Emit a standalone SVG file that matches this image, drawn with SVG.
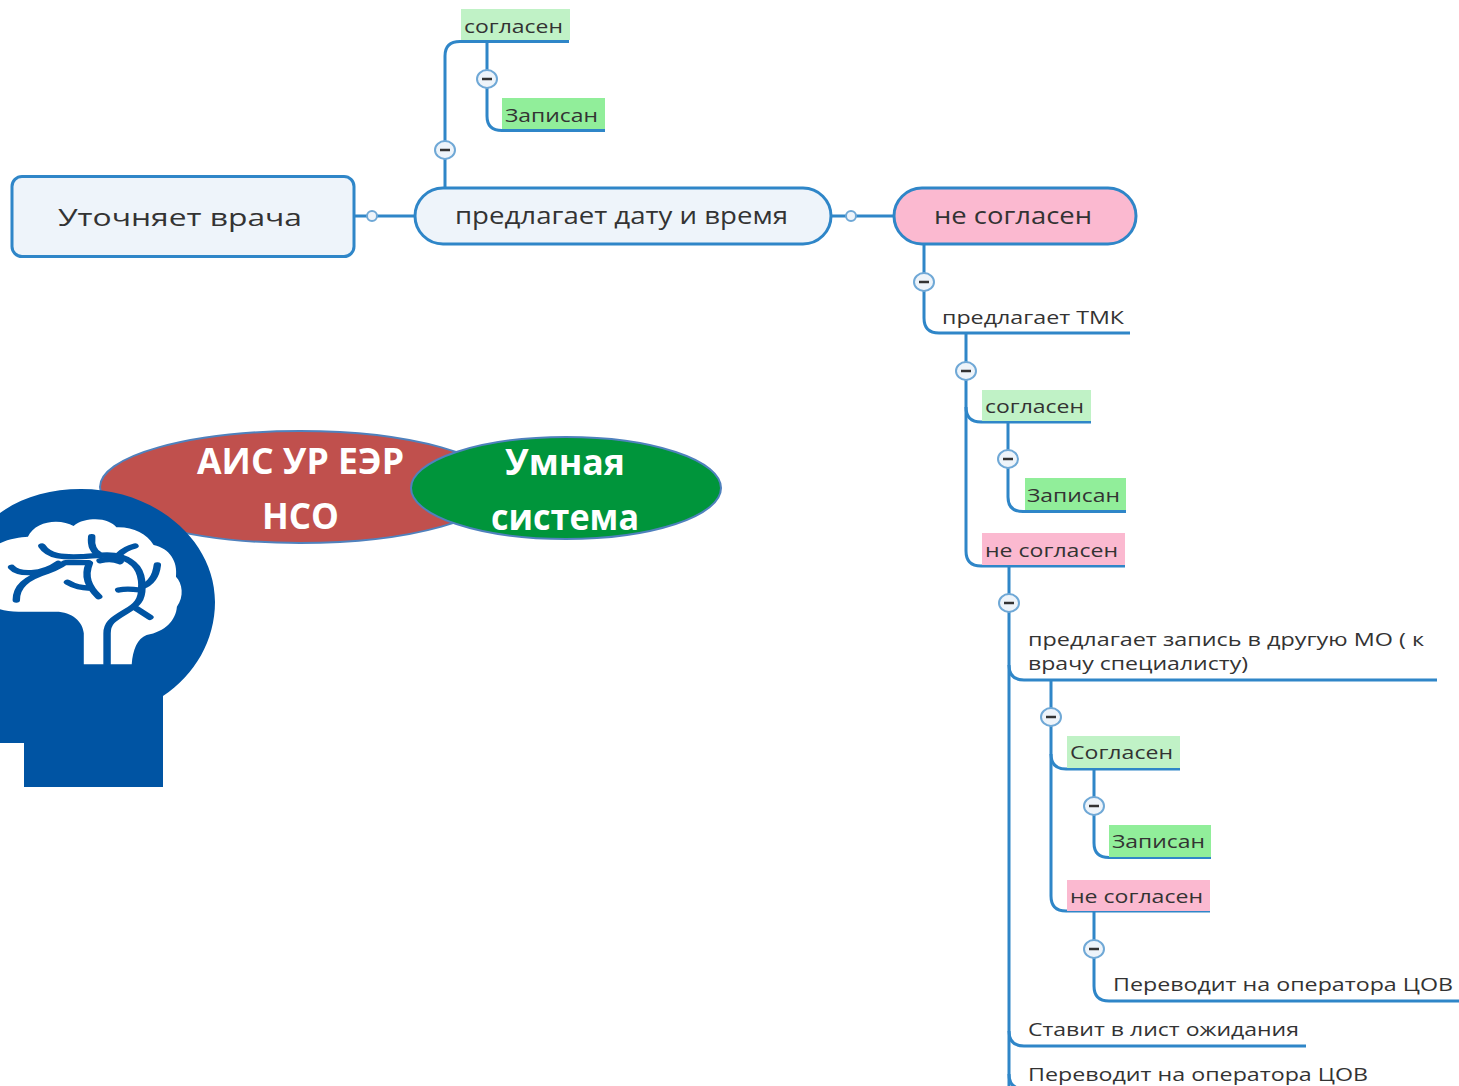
<svg xmlns="http://www.w3.org/2000/svg" width="1459" height="1086" viewBox="0 0 1459 1086">
<style>
.c{fill:none;stroke:#2f86c8;stroke-width:3}
.t{font-family:"Open Sans","Liberation Sans",sans-serif;fill:#333;font-size:19px}
.b{font-size:24px}
.w{font-family:"Open Sans","Liberation Sans",sans-serif;font-weight:700;fill:#fff;font-size:35px}
.n{stroke:#2f86c8;stroke-width:3}
.g1{fill:#c0f2c6}.g2{fill:#91ee9a}.p1{fill:#fbb9d0}
.tg{fill:#eef4fa;stroke:#6fa8d6;stroke-width:2}
.d{stroke:#333;stroke-width:2.5}
.v{fill:none;stroke:#0054a3;stroke-width:16;stroke-linecap:round;stroke-linejoin:round}
</style>
<defs>
<g id="toggle"><ellipse class="tg" rx="10" ry="9"/><line class="d" x1="-5" x2="5"/></g>
</defs>
<g id="connectors">
<path class="c" d="M354 216H415M831 216H894"/>
<path class="c" d="M445 188V56Q445 41.500 460 41.500H569"/>
<path class="c" d="M487 41.500V116Q487 130.500 502 130.500H605"/>
<path class="c" d="M924 244V318Q924 333 939 333H1130"/>
<path class="c" d="M966 333V551Q966 566 981 566H1125"/>
<path class="c" d="M966 407Q966 422 981 422H1091"/>
<path class="c" d="M1008 422V497Q1008 511.500 1023 511.500H1126"/>
<path class="c" d="M1009 566V1086"/>
<path class="c" d="M1009 665Q1009 680 1024 680H1437"/>
<path class="c" d="M1051 680V896Q1051 911 1066 911H1210"/>
<path class="c" d="M1051 754Q1051 769 1066 769H1180"/>
<path class="c" d="M1094 769V843Q1094 857.500 1109 857.500H1211"/>
<path class="c" d="M1094 911V986Q1094 1001 1109 1001H1459"/>
<path class="c" d="M1009 1031Q1009 1046 1024 1046H1306"/>
<path class="c" d="M1024 1089Q1009 1089 1009 1074"/>
<circle class="tg" cx="372" cy="216" r="5"/>
<circle class="tg" cx="851" cy="216" r="5"/>
<use href="#toggle" x="445" y="150"/>
<use href="#toggle" x="487" y="79"/>
<use href="#toggle" x="924" y="282"/>
<use href="#toggle" x="966" y="371"/>
<use href="#toggle" x="1008" y="459"/>
<use href="#toggle" x="1009" y="603"/>
<use href="#toggle" x="1051" y="717"/>
<use href="#toggle" x="1094" y="806"/>
<use href="#toggle" x="1094" y="949"/>
</g>
<g id="n-root"><rect x="12" y="176.500" width="342" height="80" rx="10" fill="#eef4fa" class="n"/><text class="t b" x="58" y="226" textLength="244" lengthAdjust="spacingAndGlyphs">Уточняет врача</text></g>
<g id="n-date"><rect x="415" y="188" width="416" height="56" rx="28" fill="#eef4fa" class="n"/><text class="t b" x="455" y="224" textLength="333" lengthAdjust="spacingAndGlyphs">предлагает дату и время</text></g>
<g id="n-no"><rect x="894" y="188" width="242" height="56" rx="28" class="n p1"/><text class="t b" x="934" y="224" textLength="158" lengthAdjust="spacingAndGlyphs">не согласен</text></g>
<g id="n-yes1"><rect x="461" y="9" width="109" height="31" class="g1"/><text class="t" x="464" y="33" textLength="99" lengthAdjust="spacingAndGlyphs">согласен</text></g>
<g id="n-rec1"><rect x="502" y="98" width="103" height="31" class="g2"/><text class="t" x="505" y="122" textLength="93" lengthAdjust="spacingAndGlyphs">Записан</text></g>
<g id="n-tmk"><text class="t" x="942" y="324" textLength="182" lengthAdjust="spacingAndGlyphs">предлагает ТМК</text></g>
<g id="n-yes2"><rect x="982" y="390" width="109" height="31" class="g1"/><text class="t" x="985" y="413" textLength="99" lengthAdjust="spacingAndGlyphs">согласен</text></g>
<g id="n-rec2"><rect x="1025" y="478" width="101" height="32" class="g2"/><text class="t" x="1027" y="502" textLength="93" lengthAdjust="spacingAndGlyphs">Записан</text></g>
<g id="n-no2"><rect x="982" y="533" width="143" height="32" class="p1"/><text class="t" x="985" y="557" textLength="133" lengthAdjust="spacingAndGlyphs">не согласен</text></g>
<g id="n-other"><text class="t" x="1028" y="646" textLength="396" lengthAdjust="spacingAndGlyphs">предлагает запись в другую МО ( к</text><text class="t" x="1028" y="670" textLength="220" lengthAdjust="spacingAndGlyphs">врачу специалисту)</text></g>
<g id="n-yes3"><rect x="1067" y="736" width="113" height="32" class="g1"/><text class="t" x="1070" y="759" textLength="103" lengthAdjust="spacingAndGlyphs">Согласен</text></g>
<g id="n-rec3"><rect x="1109" y="825" width="102" height="32" class="g2"/><text class="t" x="1112" y="848" textLength="93" lengthAdjust="spacingAndGlyphs">Записан</text></g>
<g id="n-no3"><rect x="1067" y="880" width="143" height="31" class="p1"/><text class="t" x="1070" y="903" textLength="133" lengthAdjust="spacingAndGlyphs">не согласен</text></g>
<g id="n-op1"><text class="t" x="1113" y="991" textLength="340" lengthAdjust="spacingAndGlyphs">Переводит на оператора ЦОВ</text></g>
<g id="n-wait"><text class="t" x="1028" y="1036" textLength="271" lengthAdjust="spacingAndGlyphs">Ставит в лист ожидания</text></g>
<g id="n-op2"><text class="t" x="1028" y="1081" textLength="340" lengthAdjust="spacingAndGlyphs">Переводит на оператора ЦОВ</text></g>
<g id="n-ais"><ellipse cx="300" cy="487" rx="200" ry="56" fill="#c0504d" stroke="#4f81bd" stroke-width="2"/><text class="w" x="197" y="474" textLength="207" lengthAdjust="spacingAndGlyphs">АИС УР ЕЭР</text><text class="w" x="262" y="529" textLength="77" lengthAdjust="spacingAndGlyphs">НСО</text></g>
<g id="n-smart"><ellipse cx="566" cy="488" rx="155" ry="51" fill="#00953b" stroke="#4f81bd" stroke-width="2"/><text class="w" x="505" y="475" textLength="120" lengthAdjust="spacingAndGlyphs">Умная</text><text class="w" x="491" y="530" textLength="148" lengthAdjust="spacingAndGlyphs">система</text></g>
<g id="n-head">
<path fill="#0054a3" d="M0 513C22 497 50 489 81 489C155 489 215 540 215 602C215 640 195 675 163 696V787H24V743H0Z"/>
<g transform="translate(0 420) scale(.4655 .33333)">
<path fill="#fff" d="M0 370C20 355 45 352 60 350C70 320 95 305 120 305C135 305 148 310 158 318C170 303 190 298 205 298C225 298 242 308 250 322C285 320 315 340 330 375C365 385 382 425 378 470C392 490 396 530 380 560C378 600 355 635 315 645C295 655 285 690 283 733H180V640C178 605 155 575 120 575H40C25 575 10 572 0 568Z"/>
<path class="v" d="M197 350C195 375 200 395 215 405M290 378C270 385 262 395 255 405M90 378C105 410 135 412 175 410C205 408 235 400 258 410C290 425 305 450 305 500C305 540 295 555 270 575C240 600 230 610 230 640V733"/>
<path class="v" d="M25 442C40 465 90 465 125 430M35 540C35 500 55 475 100 455C120 445 130 435 140 428H190"/>
<path class="v" d="M192 430C180 470 190 500 212 530M215 422C235 415 250 420 258 425M145 487C160 500 175 503 195 505M338 435C335 470 325 490 305 500M255 510C270 505 285 507 300 510M292 565L322 592"/>
</g>
</g>
</svg>
